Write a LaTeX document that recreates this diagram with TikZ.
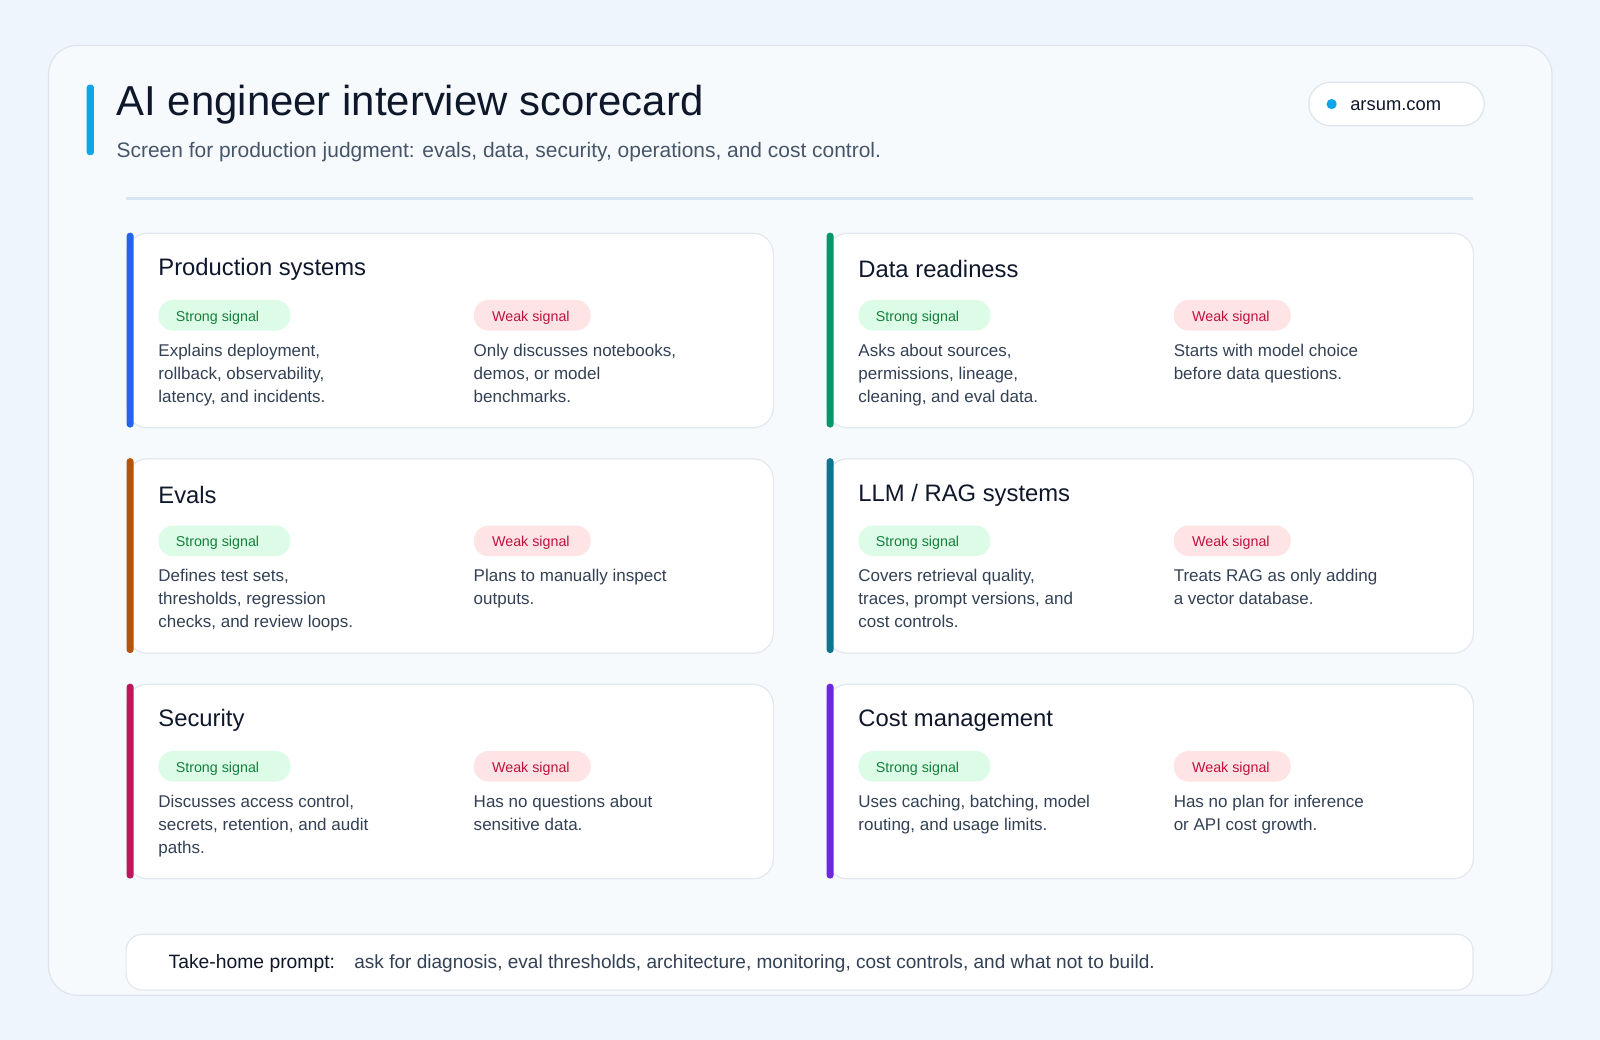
\documentclass[tikz,border=0pt]{standalone}
\usepackage{fontspec}
\setmainfont{Liberation Sans}
\usetikzlibrary{positioning}

\definecolor{pagebg}{HTML}{EEF5FC}
\definecolor{panelbg}{HTML}{F7FAFD}
\definecolor{panelline}{HTML}{DCE5EE}
\definecolor{cardline}{HTML}{E2E8F0}
\definecolor{inkdark}{HTML}{0F172A}
\definecolor{inkbody}{HTML}{334155}
\definecolor{inksub}{HTML}{475569}
\definecolor{skyacc}{HTML}{0EA5E9}
\definecolor{rulecol}{HTML}{D6E6F5}
\definecolor{goodbg}{HTML}{DCFCE7}
\definecolor{goodfg}{HTML}{15803D}
\definecolor{badbg}{HTML}{FFE4E6}
\definecolor{badfg}{HTML}{BE123C}
\definecolor{accblue}{HTML}{2563EB}
\definecolor{accgreen}{HTML}{059669}
\definecolor{accorange}{HTML}{B45309}
\definecolor{accteal}{HTML}{0E7490}
\definecolor{acccrimson}{HTML}{BE185D}
\definecolor{accpurple}{HTML}{6D28D9}

\tikzset{
  cardbox/.style={draw=cardline, line width=0.9pt, fill=white, rounded corners=15pt},
  cardtitle/.style={anchor=west, inner sep=0pt, text=inkdark, font=\fontsize{17.5pt}{21pt}\selectfont},
  pillbox/.style={rounded corners=11pt, minimum height=22.5pt, inner sep=0pt, font=\fontsize{10.5pt}{12pt}\selectfont},
  goodpill/.style={pillbox, fill=goodbg, minimum width=97pt},
  badpill/.style={pillbox, fill=badbg, minimum width=86pt},
  bodytext/.style={anchor=north west, inner sep=0pt, align=left, text=inkbody, font=\fontsize{12.5pt}{16.9pt}\selectfont},
}

% #1 left x, #2 top y, #3 accent, #4 name, #5 title, #6 strong text, #7 weak text
\newcommand{\scorecard}[7]{
  \node[cardbox, minimum width=475pt, minimum height=143pt, anchor=north west, inner sep=0pt] (#4) at (#1,#2) {};
  \fill[#3, rounded corners=2.5pt] (#1,#2) rectangle ++(7,191);
  \node[cardtitle] (#4-title) at (#1+31,#2+36) {#5};
  \node[goodpill, anchor=west] (#4-good) at (#1+31,#2+81) {};
  \node[badpill, anchor=west] (#4-bad) at (#1+340,#2+81) {};
  \node[pillbox, text=goodfg, anchor=west] (#4-goodlbl) at (#1+48,#2+83) {Strong signal};
  \node[pillbox, text=badfg, anchor=west] (#4-badlbl) at (#1+358,#2+83) {Weak signal};
  \node[bodytext] (#4-goodtxt) at (#1+31,#2+109) {#6};
  \node[bodytext] (#4-badtxt) at (#1+340,#2+109) {#7};
}

\begin{document}
\begin{tikzpicture}[x=0.75pt, y=-0.75pt]
\useasboundingbox (0,0) rectangle (1568,1019);
\fill[pagebg] (0,0) rectangle (1568,1019);

% panel
\node[draw=panelline, line width=0.9pt, fill=panelbg, rounded corners=21pt, minimum width=1105pt, minimum height=698pt, anchor=north west, inner sep=0pt] (panel) at (47,44) {};

% header
\fill[skyacc, rounded corners=2pt] (85,83) rectangle (92,152);
\node[anchor=west, inner sep=0pt, text=inkdark, font=\fontsize{30.8pt}{34pt}\selectfont] (title) at (114,103) {AI engineer interview scorecard};
\node[anchor=west, inner sep=0pt, text=inksub, font=\fontsize{15.4pt}{18pt}\selectfont] (subtitle) at (114,149) {Screen for production judgment: evals, data, security, operations, and cost control.};
\node[draw=panelline, line width=0.9pt, fill=white, rounded corners=16pt, minimum width=129pt, minimum height=32pt, anchor=north west, inner sep=0pt] (site) at (1282,80) {};
\fill[skyacc] (1305,102) circle (5);
\node[anchor=west, inner sep=0pt, text=inkdark, font=\fontsize{13.5pt}{15pt}\selectfont] (sitetxt) at (1323,104) {arsum.com};
\draw[rulecol, line width=2.2pt] (123,195) -- (1444,195);

% cards
\scorecard{124}{228}{accblue}{prod}{Production systems}{Explains deployment,\\rollback, observability,\\latency, and incidents.}{Only discusses notebooks,\\demos, or model\\benchmarks.}
\scorecard{810}{228}{accgreen}{data}{Data readiness}{Asks about sources,\\permissions, lineage,\\cleaning, and eval data.}{Starts with model choice\\before data questions.}
\scorecard{124}{449}{accorange}{evals}{Evals}{Defines test sets,\\thresholds, regression\\checks, and review loops.}{Plans to manually inspect\\outputs.}
\scorecard{810}{449}{accteal}{llm}{LLM / RAG systems}{Covers retrieval quality,\\traces, prompt versions, and\\cost controls.}{Treats RAG as only adding\\a vector database.}
\scorecard{124}{670}{acccrimson}{sec}{Security}{Discusses access control,\\secrets, retention, and audit\\paths.}{Has no questions about\\sensitive data.}
\scorecard{810}{670}{accpurple}{cost}{Cost management}{Uses caching, batching, model\\routing, and usage limits.}{Has no plan for inference\\or API cost growth.}

% take-home
\node[cardbox, rounded corners=12pt, minimum width=990pt, minimum height=41pt, anchor=north west, inner sep=0pt] (prompt) at (123,915) {};
\node[anchor=west, inner sep=0pt, text=inkdark, font=\fontsize{14.2pt}{16pt}\selectfont] (promptlbl) at (165,944) {Take-home prompt:};
\node[anchor=west, inner sep=0pt, text=inkbody, font=\fontsize{14pt}{16pt}\selectfont] (prompttxt) at (347,944) {ask for diagnosis, eval thresholds, architecture, monitoring, cost controls, and what not to build.};
\end{tikzpicture}
\end{document}
